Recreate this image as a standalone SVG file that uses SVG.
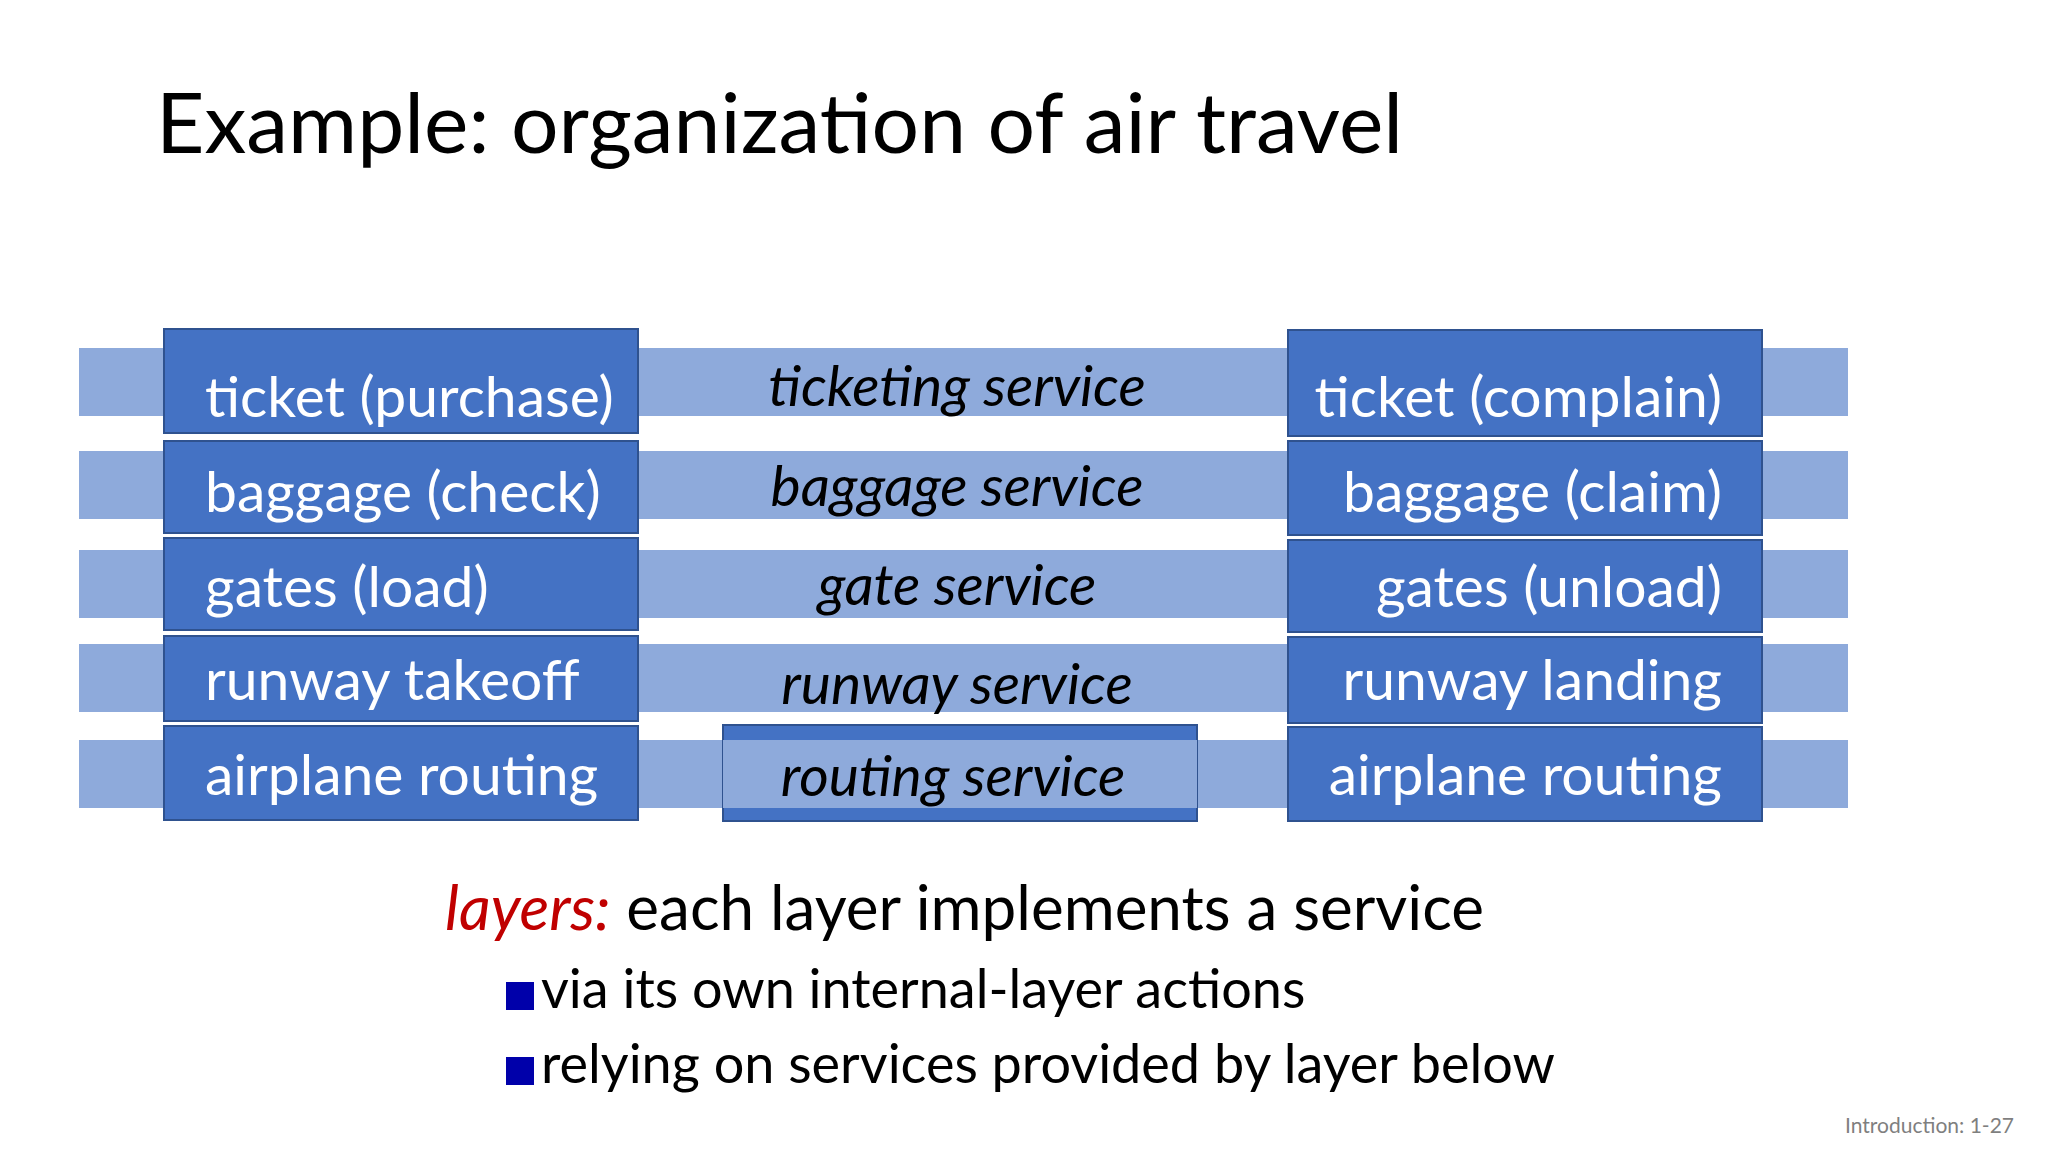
<svg xmlns="http://www.w3.org/2000/svg" width="2048" height="1152" viewBox="0 0 2048 1152">
<style>
.band{fill:#8eaadb}
.box{fill:#4472c4;stroke:#2f528f;stroke-width:2}
.w{fill:#fff;font-family:Lato,"Open Sans",sans-serif;font-size:57px}
.m{fill:#000;font-family:Lato,"Open Sans",sans-serif;font-size:57px;font-style:italic;text-anchor:middle}
.b{font-family:Lato,"Open Sans",sans-serif;fill:#000}
</style>
<rect width="2048" height="1152" fill="#fff"/>
<text x="156" y="153" class="b" font-size="84">Example: organization of air travel</text>
<g id="bands">
<rect class="band" x="79" y="348" width="1769" height="68"/>
<rect class="band" x="79" y="451" width="1769" height="68"/>
<rect class="band" x="79" y="550" width="1769" height="68"/>
<rect class="band" x="79" y="644" width="1769" height="68"/>
<rect class="band" x="79" y="740" width="1769" height="68"/>
</g>
<g id="left">
<rect class="box" x="164" y="329" width="474" height="104"/><text class="w" x="205" y="417">ticket (purchase)</text>
<rect class="box" x="164" y="441" width="474" height="92"/><text class="w" x="205" y="512">baggage (check)</text>
<rect class="box" x="164" y="538" width="474" height="92"/><text class="w" x="205" y="607">gates (load)</text>
<rect class="box" x="164" y="636" width="474" height="85"/><text class="w" x="205" y="700">runway takeoff</text>
<rect class="box" x="164" y="726" width="474" height="94"/><text class="w" x="205" y="795">airplane routing</text>
</g>
<g id="right">
<rect class="box" x="1288" y="330" width="474" height="106"/><text class="w" x="1722" y="417" text-anchor="end">ticket (complain)</text>
<rect class="box" x="1288" y="441" width="474" height="94"/><text class="w" x="1722" y="512" text-anchor="end">baggage (claim)</text>
<rect class="box" x="1288" y="540" width="474" height="92"/><text class="w" x="1722" y="607" text-anchor="end">gates (unload)</text>
<rect class="box" x="1288" y="637" width="474" height="86"/><text class="w" x="1722" y="700" text-anchor="end">runway landing</text>
<rect class="box" x="1288" y="727" width="474" height="94"/><text class="w" x="1722" y="795" text-anchor="end">airplane routing</text>
</g>
<g id="middle">
<rect class="box" x="723" y="725" width="474" height="96"/>
<rect class="band" x="723" y="740" width="474" height="68"/>
<text class="m" x="957" y="406">ticketing service</text>
<text class="m" x="957" y="506">baggage service</text>
<text class="m" x="957" y="605">gate service</text>
<text class="m" x="957" y="704">runway service</text>
<text class="m" x="953" y="796">routing service</text>
</g>
<text x="445" y="930" class="b" font-size="62"><tspan fill="#c00000" font-style="italic">layers:</tspan> each layer implements a service</text>
<rect x="506" y="982" width="28" height="28" fill="#0000aa"/>
<text x="541" y="1008" class="b" font-size="54">via its own internal-layer actions</text>
<rect x="506" y="1057" width="28" height="28" fill="#0000aa"/>
<text x="541" y="1083" class="b" font-size="54">relying on services provided by layer below</text>
<text x="2014" y="1133" font-family="Lato,sans-serif" font-size="21" fill="#7f7f7f" text-anchor="end">Introduction: 1-27</text>
</svg>
